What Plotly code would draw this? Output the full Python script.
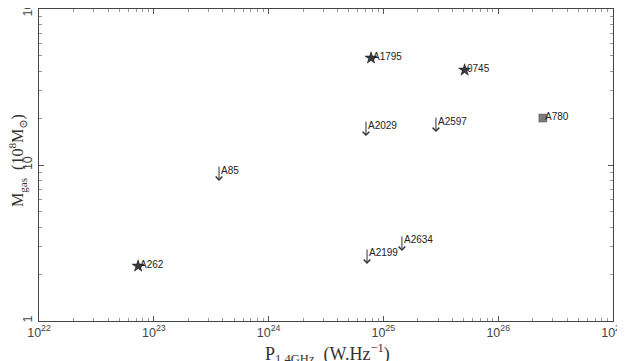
import numpy as np
import plotly.graph_objects as go

# detections (stars)
det_names = ["A262", "A1795", "0745"]
det_power = [7.3e22, 7.8e24, 5.1e25]
det_mgas = [2.25, 48.5, 40.6]

# upper limits (arrows)
lim_names = ["A85", "A2029", "A2597", "A2199", "A2634"]
lim_power = [3.7e23, 7.05e24, 2.87e25, 7.2e24, 1.45e25]
lim_mgas = [10.0, 19.4, 20.6, 2.94, 3.56]

# other (square)
sq_names = ["A780"]
sq_power = [2.45e26]
sq_mgas = [20.0]

serif = "Liberation Serif, DejaVu Serif, serif"
sans = "Liberation Sans, Arial, sans-serif"
ink = "#333333"

fig = go.Figure()

fig.add_trace(go.Scatter(
    x=det_power, y=det_mgas, mode="markers",
    marker=dict(symbol="star", size=9, color="#3a3a3a",
                line=dict(color="#111111", width=0.5)),
    hoverinfo="skip", showlegend=False,
))
fig.add_trace(go.Scatter(
    x=sq_power, y=sq_mgas, mode="markers",
    marker=dict(symbol="square", size=8, color="#7a7a7a",
                line=dict(color="#555555", width=0.5)),
    hoverinfo="skip", showlegend=False,
))

annotations = []
for n, p, m in zip(lim_names, lim_power, lim_mgas):
    # arrow pointing down from the upper limit
    annotations.append(dict(
        x=np.log10(p), y=np.log10(m), xref="x", yref="y",
        text="", showarrow=True, ax=0, ay=-16, yshift=-16,
        arrowhead=4, arrowsize=1.3, arrowwidth=1, arrowcolor=ink,
    ))
    annotations.append(dict(
        x=np.log10(p), y=np.log10(m), xref="x", yref="y",
        text=n, showarrow=False, xanchor="left", yanchor="middle",
        xshift=0, yshift=-5, font=dict(family=sans, size=10, color="#222222"),
    ))
for n, p, m in zip(det_names + sq_names, det_power + sq_power, det_mgas + sq_mgas):
    annotations.append(dict(
        x=np.log10(p), y=np.log10(m), xref="x", yref="y",
        text=n, showarrow=False, xanchor="left", yanchor="middle",
        xshift=0, yshift=2, font=dict(family=sans, size=10, color="#222222"),
    ))

# axis titles
annotations.append(dict(
    x=0.502, y=-0.105, xref="paper", yref="paper", xanchor="center", yanchor="middle",
    text="P<sub>1.4GHz</sub>  (W.Hz<sup>−1</sup>)", showarrow=False,
    font=dict(family=serif, size=18, color="#333333"),
))
annotations.append(dict(
    x=-0.037, y=0.515, xref="paper", yref="paper", xanchor="center", yanchor="middle",
    text="M<sub>gas</sub>  (10<sup>8</sup>M<sub>⊙</sub>)", showarrow=False, textangle=-90,
    font=dict(family=serif, size=16, color="#333333"),
))

axis_common = dict(
    type="log", showgrid=False, zeroline=False, automargin=False,
    showline=True, linecolor="#444444", linewidth=1, mirror="ticks",
    ticks="inside", ticklen=5, tickcolor="#555555", tickwidth=1,
    dtick=1, exponentformat="power", ticklabeloverflow="allow",
    minor=dict(ticks="inside", ticklen=3, tickcolor="#999999", dtick="D1"),
    tickfont=dict(family=sans, size=10, color="#444444"),
)

# page body adds an 8px offset; figure sized to the rest of the window
fig.update_layout(
    width=617, height=353,
    margin=dict(l=31, r=12, t=1, b=40),
    paper_bgcolor="white", plot_bgcolor="white",
    annotations=annotations,
    xaxis=dict(axis_common, range=[22, 27]),
    yaxis=dict(axis_common, range=[0, 2], tickangle=-90, ticklabelstandoff=2),
)

fig.write_html("out.html")
